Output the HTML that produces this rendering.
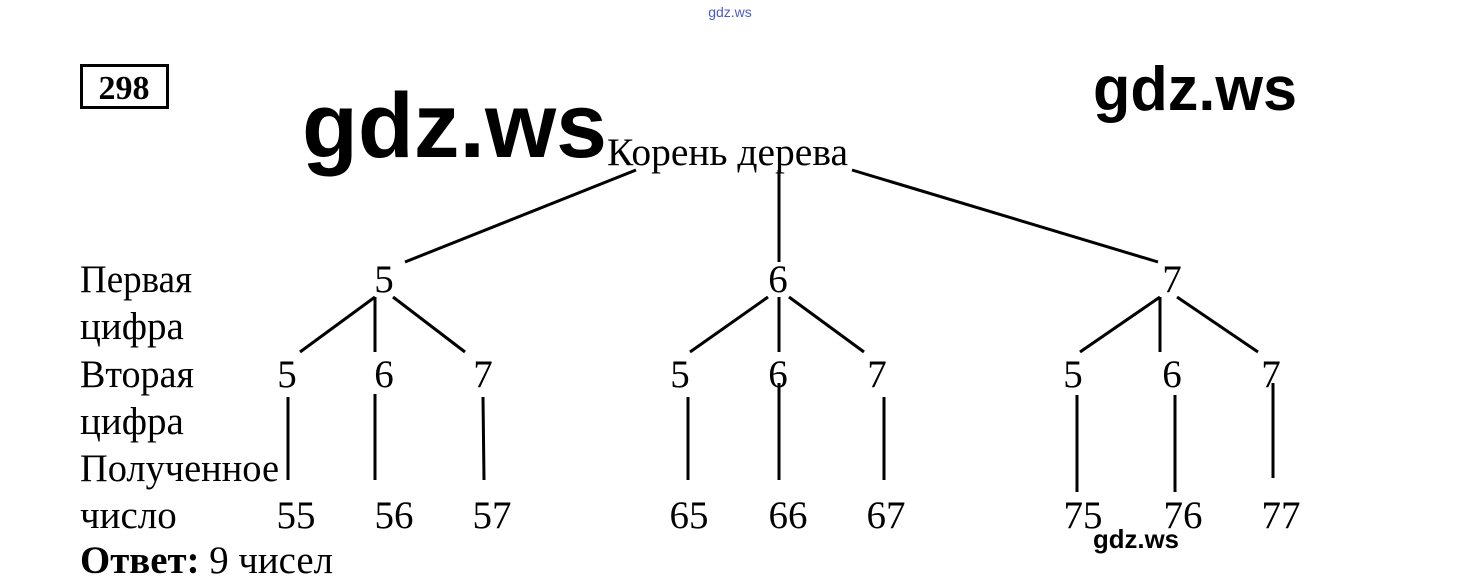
<!DOCTYPE html>
<html><head><meta charset="utf-8"><style>
html,body{margin:0;padding:0;background:#fff;width:1460px;height:588px;overflow:hidden}
svg{display:block}
.t{font-family:"Liberation Serif","DejaVu Serif",serif;font-size:39px;fill:#000}
.w{font-family:"Liberation Sans","DejaVu Sans",sans-serif;font-weight:bold;fill:#000}
</style></head><body>
<svg width="1460" height="588" viewBox="0 0 1460 588" xmlns="http://www.w3.org/2000/svg">
<text x="730" y="17" text-anchor="middle" class="w" style="font-size:14px;font-weight:normal;fill:#4a5acc">gdz.ws</text>
<rect x="81.5" y="65.5" width="86" height="42" fill="none" stroke="#000" stroke-width="3"/>
<text x="124" y="99" text-anchor="middle" style="font-family:'Liberation Serif',serif;font-weight:bold;font-size:34px">298</text>
<text x="302" y="157" class="w" style="font-size:92px" textLength="305" lengthAdjust="spacingAndGlyphs">gdz.ws</text>
<text x="1093" y="110" class="w" style="font-size:62px" textLength="204" lengthAdjust="spacingAndGlyphs">gdz.ws</text>
<text x="1093" y="548" class="w" style="font-size:26px" textLength="86" lengthAdjust="spacingAndGlyphs">gdz.ws</text>
<text x="607" y="165" class="t" textLength="241" lengthAdjust="spacingAndGlyphs">Корень дерева</text>
<g stroke="#000" stroke-width="3" fill="none">
<line x1="636" y1="170" x2="405" y2="262"/>
<line x1="779" y1="170" x2="779" y2="262"/>
<line x1="852" y1="170" x2="1158" y2="262"/>
<line x1="375" y1="297" x2="300" y2="352"/>
<line x1="375" y1="297" x2="375" y2="352"/>
<line x1="393" y1="297" x2="465" y2="352"/>
<line x1="768" y1="297" x2="690" y2="352"/>
<line x1="779" y1="297" x2="779" y2="352"/>
<line x1="789" y1="297" x2="864" y2="352"/>
<line x1="1160" y1="297" x2="1080" y2="352"/>
<line x1="1160" y1="297" x2="1160" y2="352"/>
<line x1="1177" y1="297" x2="1258" y2="352"/>
<line x1="288" y1="397" x2="288" y2="480"/>
<line x1="375" y1="394" x2="375" y2="480"/>
<line x1="483" y1="397" x2="484" y2="480"/>
<line x1="688" y1="397" x2="688" y2="480"/>
<line x1="779" y1="383" x2="779" y2="480"/>
<line x1="884" y1="397" x2="884" y2="480"/>
<line x1="1077" y1="395" x2="1077" y2="492"/>
<line x1="1175" y1="395" x2="1175" y2="492"/>
<line x1="1273" y1="383" x2="1273" y2="478"/>
</g>
<g class="t">
<text x="80" y="292" textLength="112" lengthAdjust="spacingAndGlyphs">Первая</text>
<text x="80" y="339">цифра</text>
<text x="80" y="387" textLength="114" lengthAdjust="spacingAndGlyphs">Вторая</text>
<text x="80" y="434">цифра</text>
<text x="80" y="481" textLength="199" lengthAdjust="spacingAndGlyphs">Полученное</text>
<text x="80" y="528">число</text>
<text x="80" y="573" textLength="253" lengthAdjust="spacingAndGlyphs"><tspan font-weight="bold">Ответ:</tspan> 9 чисел</text>
</g>
<g fill="#fff">
<rect x="370" y="262" width="28" height="34"/>
<rect x="765" y="262" width="28" height="34"/>
<rect x="1158" y="262" width="28" height="34"/>
</g>
<g class="t" text-anchor="middle">
<text x="384" y="292">5</text>
<text x="778" y="292">6</text>
<text x="1172" y="292">7</text>
<text x="287" y="387">5</text><text x="384" y="387">6</text><text x="483" y="387">7</text>
<text x="680" y="387">5</text><text x="778" y="387">6</text><text x="877" y="387">7</text>
<text x="1073" y="387">5</text><text x="1172" y="387">6</text><text x="1271" y="387">7</text>
<text x="296" y="528">55</text><text x="394" y="528">56</text><text x="492" y="528">57</text>
<text x="689" y="528">65</text><text x="788" y="528">66</text><text x="886" y="528">67</text>
<text x="1083" y="528">75</text><text x="1183" y="528">76</text><text x="1281" y="528">77</text>
</g>
</svg>
</body></html>
